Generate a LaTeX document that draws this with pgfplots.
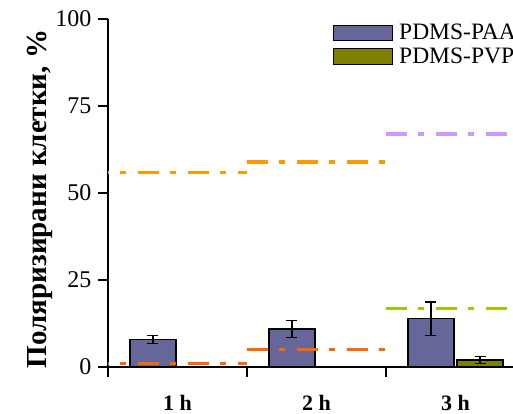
\documentclass[border=0pt]{standalone}
\usepackage{fontspec}
\setmainfont{Liberation Serif}
\usepackage{pgfplots}
\pgfplotsset{compat=1.18}
\definecolor{paa}{RGB}{102,102,153}
\definecolor{pvp}{RGB}{128,128,0}
\definecolor{lorange}{RGB}{255,153,0}
\definecolor{rorange}{RGB}{255,102,0}
\definecolor{lilac}{RGB}{204,153,255}
\definecolor{lgreen}{RGB}{153,204,0}
\begin{document}
\begin{tikzpicture}
\path[use as bounding box, clip] (-108bp,-47bp) rectangle (405bp,367bp);
\begin{axis}[
  scale only axis, width=417bp, height=348bp,
  xmin=0, xmax=3, ymin=0, ymax=100,
  axis x line=bottom, axis y line=left,
  axis line style={-, line width=2.7bp, black},
  ytick={0,25,50,75,100},
  xtick={0,1,2,3}, xticklabels={},
  extra x ticks={0.5,1.5,2.5},
  extra x tick labels={\textbf{1 h},\textbf{2 h},\textbf{3 h}},
  extra x tick style={major tick length=0pt, tick label style={font=\fontsize{22bp}{26bp}\selectfont\bfseries, inner sep=0pt, yshift=-28bp}},
  tick align=outside, major tick length=10bp,
  tick style={line width=2.2bp, black},
  yticklabel style={font=\fontsize{24bp}{28bp}\selectfont, xshift=-3bp},
  /pgf/number format/assume math mode=true,
  every axis y label/.style={at={(axis description cs:-0.1631,0.4828)}, rotate=90, anchor=center},
  ylabel={Поляризирани клетки, \%},
  ylabel style={font=\fontsize{29bp}{34bp}\selectfont\bfseries},
  legend style={at={(0.5396,0.9856)}, anchor=north west, draw=none, fill=none, inner sep=0pt, outer sep=0pt, nodes={inner sep=0pt, outer sep=0pt}, font=\fontsize{23.5bp}{27bp}\selectfont, row sep=6.5bp,
    /tikz/every odd column/.append style={column sep=6bp}},
  legend cell align=left,
  legend image code/.code={\draw[#1] (0bp,-8bp) rectangle (59bp,7.3bp);},
]
\addplot[ybar, bar width=46bp, bar shift=0pt, fill=paa, draw=black, line width=1.2bp,
  error bars/.cd, y dir=both, y explicit,
  error bar style={line width=1.2bp, black, solid},
  error mark options={rotate=90, mark size=5.5bp, line width=1.2bp, black}]
  coordinates {(0.3237,7.9) +- (0,1.05) (1.3237,10.9) +- (0,2.35) (2.3237,13.9) +- (0,4.8)};
\addlegendentry{PDMS-PAA}
\addplot[ybar, bar width=46bp, bar shift=0pt, fill=pvp, draw=black, line width=1.2bp,
  error bars/.cd, y dir=both, y explicit,
  error bar style={line width=1.2bp, black, solid},
  error mark options={rotate=90, mark size=5.5bp, line width=1.2bp, black}]
  coordinates {(2.6763,2.0) +- (0,0.95)};
\addlegendentry{PDMS-PVP}
\addplot[lorange, line width=3.5bp, dash pattern=on 21bp off 11bp on 6bp off 12bp, dash phase=20bp, forget plot] coordinates {(0,55.9) (1,55.9)};
\addplot[rorange, line width=3.5bp, dash pattern=on 21bp off 11bp on 6bp off 12bp, dash phase=20bp, forget plot] coordinates {(0,1.05) (1,1.05)};
\addplot[lorange, line width=3.5bp, dash pattern=on 21bp off 11bp on 6bp off 12bp, forget plot] coordinates {(1,58.9) (2,58.9)};
\addplot[rorange, line width=3.5bp, dash pattern=on 21bp off 11bp on 6bp off 12bp, forget plot] coordinates {(1,5.1) (2,5.1)};
\addplot[lilac, line width=3.5bp, dash pattern=on 21bp off 11bp on 6bp off 12bp, forget plot] coordinates {(2,67.0) (2.87,67.0)};
\addplot[lgreen, line width=3.5bp, dash pattern=on 21bp off 11bp on 6bp off 12bp, forget plot] coordinates {(2,16.8) (2.87,16.8)};
\end{axis}
\end{tikzpicture}
\end{document}
